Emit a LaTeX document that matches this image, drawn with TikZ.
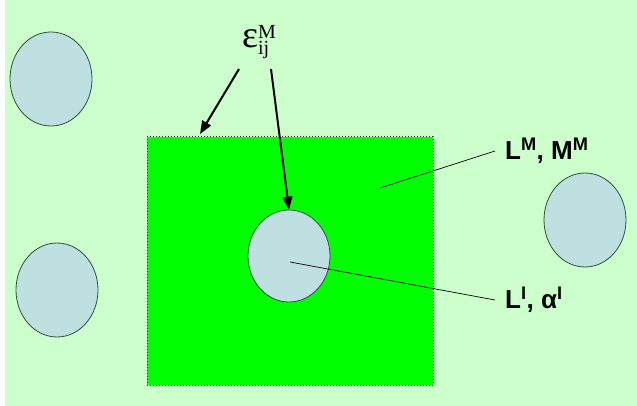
\documentclass[tikz,border=0pt]{standalone}
\usepackage{fontspec}
\setsansfont{Liberation Sans}
\newfontfamily\serifface{Liberation Serif}
\usetikzlibrary{shapes.geometric,arrows.meta}
\definecolor{bggreen}{HTML}{CCFFCC}
\definecolor{matrixgreen}{HTML}{00FF00}
\definecolor{grainblue}{HTML}{BFE0E0}
\definecolor{grainedge}{HTML}{2F4F3F}
\newcommand{\scriptpart}[1]{\mbox{\serifface\fontsize{20}{20}\selectfont #1}}
\tikzset{
  grain/.style={ellipse, draw=grainedge, fill=grainblue, line width=0.8pt,
    minimum width=82pt, minimum height=94pt, inner sep=0pt},
  pointer/.style={-{Triangle[length=13pt,width=10pt]}, line width=2pt},
  leader/.style={line width=0.7pt},
  tag/.style={font=\sffamily\bfseries\fontsize{26}{26}\selectfont, anchor=west, inner sep=0pt}
}
\begin{document}
\begin{tikzpicture}[x=1pt, y=-1pt]
        % Canvas
        \useasboundingbox (0,0) rectangle (637,406);
        \fill[white] (0,0) rectangle (637,406);
        \fill[bggreen] (5,0) rectangle (637,406);

        % Matrix region
        \node[draw=black!80, dotted, line width=1pt, fill=matrixgreen, minimum width=286pt,
          minimum height=248pt, inner sep=0pt] (matrix) at (290,261) {};

        % Grains outside the matrix
        \node[grain] (grainA) at (51,79) {};
        \node[grain] (grainB) at (57,290) {};
        \node[grain] (grainC) at (585,220) {};

        % Inclusion
        \node[grain, minimum height=92pt] (incl) at (289,256) {};
        \coordinate (inclc) at (290,262);

        % Labels
        \node[font=\fontsize{38}{38}\selectfont, inner sep=0pt, anchor=base west] (eps) at (242,48)
          {$\mbox{\serifface ε}^{\scriptpart{M}}_{\scriptpart{ij}}$};
        \node[tag] (lmtag) at (505,151) {L\textsuperscript{M}, M\textsuperscript{M}};
        \node[tag] (litag) at (505,300) {L\textsuperscript{I}, α\textsuperscript{I}};

        % Arrows from the strain label
        \coordinate (epsA) at (239,69);
        \coordinate (epsB) at (271,69);
        \coordinate (edge) at (200,134);
        \draw[pointer] (epsA) -- (edge);
        \draw[pointer] (epsB) -- (incl.north);

        % Leader lines
        \coordinate (mpt) at (380,188);
        \draw[leader] (mpt) -- ([xshift=-10pt]lmtag.west);
        \draw[leader] (inclc) -- ([xshift=-10pt]litag.west);
\end{tikzpicture}
\end{document}
